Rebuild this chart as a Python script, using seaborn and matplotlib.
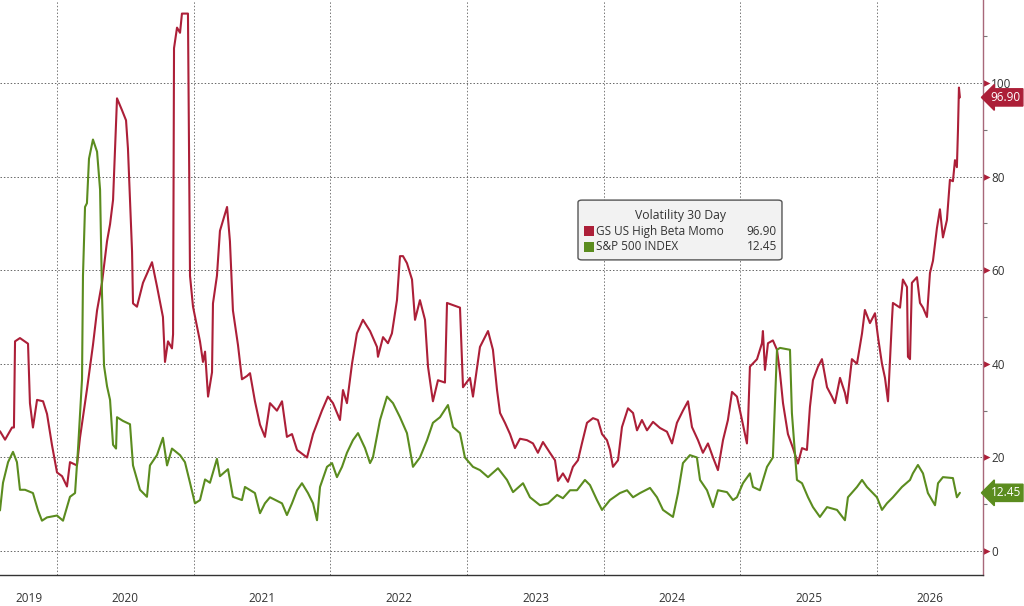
import numpy as np
import pandas as pd
import matplotlib
matplotlib.use("Agg")
import matplotlib.pyplot as plt
import matplotlib.transforms as mtrans
from matplotlib.patches import FancyBboxPatch, Rectangle
from matplotlib.ticker import MultipleLocator, FixedLocator
import seaborn as sns

# dates as fractional years
momo_t = [2019.583, 2019.620, 2019.671, 2019.685, 2019.693, 2019.729, 2019.788, 2019.802, 2019.824,
          2019.854, 2019.898, 2019.927, 2019.963, 2020.000, 2020.037, 2020.073, 2020.095, 2020.146,
          2020.168, 2020.219, 2020.263, 2020.293, 2020.329, 2020.366, 2020.388, 2020.410, 2020.439,
          2020.475, 2020.505, 2020.519, 2020.549, 2020.556, 2020.585, 2020.629, 2020.695, 2020.731,
          2020.775, 2020.790, 2020.812, 2020.841, 2020.849, 2020.856, 2020.878, 2020.900, 2020.914,
          2020.958, 2020.973, 2020.995, 2021.046, 2021.068, 2021.083, 2021.105, 2021.134, 2021.141,
          2021.170, 2021.192, 2021.244, 2021.265, 2021.287, 2021.324, 2021.353, 2021.390, 2021.412,
          2021.448, 2021.485, 2021.521, 2021.558, 2021.609, 2021.646, 2021.682, 2021.719, 2021.756,
          2021.829, 2021.873, 2021.938, 2021.982, 2022.019, 2022.070, 2022.092, 2022.121, 2022.158,
          2022.194, 2022.238, 2022.290, 2022.341, 2022.348, 2022.385, 2022.421, 2022.450, 2022.487,
          2022.509, 2022.531, 2022.560, 2022.597, 2022.619, 2022.655, 2022.692, 2022.714, 2022.750,
          2022.787, 2022.838, 2022.853, 2022.948, 2022.970, 2023.021, 2023.043, 2023.094, 2023.153,
          2023.189, 2023.219, 2023.241, 2023.277, 2023.314, 2023.350, 2023.387, 2023.438, 2023.482,
          2023.518, 2023.555, 2023.606, 2023.643, 2023.665, 2023.701, 2023.738, 2023.774, 2023.811,
          2023.840, 2023.877, 2023.921, 2023.957, 2023.987, 2024.023, 2024.045, 2024.067, 2024.104,
          2024.133, 2024.177, 2024.214, 2024.243, 2024.279, 2024.316, 2024.360, 2024.411, 2024.462,
          2024.499, 2024.535, 2024.579, 2024.616, 2024.645, 2024.689, 2024.725, 2024.762, 2024.799,
          2024.835, 2024.872, 2024.908, 2024.938, 2024.974, 2025.011, 2025.047, 2025.055, 2025.069,
          2025.121, 2025.157, 2025.164, 2025.179, 2025.201, 2025.237, 2025.267, 2025.289, 2025.311,
          2025.347, 2025.384, 2025.420, 2025.450, 2025.486, 2025.508, 2025.530, 2025.567, 2025.596,
          2025.633, 2025.669, 2025.691, 2025.728, 2025.764, 2025.779, 2025.815, 2025.852, 2025.889,
          2025.910, 2025.947, 2025.984, 2026.006, 2026.035, 2026.057, 2026.079, 2026.108, 2026.115,
          2026.167, 2026.188, 2026.218, 2026.225, 2026.240, 2026.254, 2026.291, 2026.313, 2026.335,
          2026.364, 2026.386, 2026.408, 2026.437, 2026.459, 2026.481, 2026.510, 2026.532, 2026.554,
          2026.569, 2026.583, 2026.591, 2026.598, 2026.605]
momo_vol = [25.6, 23.8, 26.4, 26.4, 44.8, 45.5, 44.3, 31.6, 26.4,
            32.3, 32.0, 29.3, 22.7, 16.8, 16.0, 13.8, 19.0, 18.3,
            24.2, 34.5, 44.0, 51.4, 57.3, 66.2, 69.8, 75.0, 96.7,
            94.2, 92.0, 86.0, 64.0, 52.9, 52.2, 57.3, 61.7, 56.6,
            50.0, 40.4, 44.8, 43.3, 46.3, 107.4, 111.8, 110.7, 114.8,
            114.8, 58.8, 52.2, 44.8, 40.4, 42.6, 33.0, 38.2, 52.9,
            58.8, 68.4, 73.5, 66.2, 51.4, 44.0, 36.7, 37.4, 38.0,
            32.0, 27.0, 24.4, 31.6, 30.0, 32.0, 24.4, 25.0, 21.6,
            20.0, 25.0, 30.0, 33.0, 31.6, 28.0, 34.4, 31.6, 40.0,
            46.5, 49.4, 47.0, 43.6, 41.5, 45.7, 44.4, 46.5, 53.6,
            63.0, 63.0, 61.5, 58.0, 49.4, 53.6, 49.4, 39.4, 32.0,
            36.5, 36.0, 53.0, 52.0, 35.0, 37.0, 33.0, 43.6, 47.0,
            43.0, 34.4, 29.5, 27.4, 25.0, 22.0, 24.0, 23.7, 23.0,
            21.0, 23.3, 21.0, 19.4, 15.0, 16.6, 14.8, 18.0, 19.4,
            23.0, 27.4, 28.4, 28.0, 25.0, 23.7, 21.6, 18.0, 19.4,
            26.5, 30.5, 29.5, 25.8, 28.0, 25.8, 27.6, 26.3, 25.5,
            23.0, 27.4, 30.0, 32.0, 26.5, 23.7, 21.0, 23.0, 20.0,
            17.3, 23.7, 28.0, 34.0, 33.0, 28.0, 23.0, 27.4, 39.4,
            41.0, 44.4, 47.0, 38.7, 44.4, 45.0, 43.0, 38.0, 31.6,
            25.0, 22.0, 18.7, 22.0, 21.6, 30.8, 36.5, 39.4, 41.0,
            35.0, 33.0, 31.6, 37.0, 33.8, 31.6, 41.0, 40.0, 46.5,
            51.5, 48.7, 50.8, 45.7, 40.0, 37.0, 32.0, 49.4, 53.0,
            52.0, 58.0, 56.4, 41.5, 41.0, 57.3, 58.5, 53.0, 52.0,
            50.0, 59.4, 62.0, 69.0, 73.0, 67.0, 70.7, 79.3, 79.0,
            83.5, 82.0, 90.0, 99.0, 96.9]

spx_t = [2019.583, 2019.605, 2019.642, 2019.678, 2019.707, 2019.729, 2019.766, 2019.824, 2019.861,
         2019.890, 2019.927, 2020.000, 2020.044, 2020.095, 2020.132, 2020.154, 2020.183, 2020.190,
         2020.205, 2020.219, 2020.234, 2020.263, 2020.293, 2020.315, 2020.329, 2020.344, 2020.366,
         2020.388, 2020.410, 2020.432, 2020.439, 2020.483, 2020.534, 2020.556, 2020.607, 2020.658,
         2020.680, 2020.731, 2020.775, 2020.805, 2020.841, 2020.900, 2020.936, 2020.973, 2021.009,
         2021.046, 2021.083, 2021.119, 2021.170, 2021.192, 2021.251, 2021.287, 2021.353, 2021.375,
         2021.448, 2021.485, 2021.521, 2021.558, 2021.646, 2021.682, 2021.719, 2021.756, 2021.792,
         2021.836, 2021.873, 2021.902, 2021.924, 2021.975, 2022.012, 2022.048, 2022.085, 2022.121,
         2022.165, 2022.202, 2022.253, 2022.290, 2022.311, 2022.363, 2022.414, 2022.458, 2022.509,
         2022.560, 2022.604, 2022.655, 2022.707, 2022.750, 2022.802, 2022.860, 2022.897, 2022.948,
         2022.984, 2023.043, 2023.094, 2023.153, 2023.226, 2023.292, 2023.336, 2023.409, 2023.460,
         2023.533, 2023.592, 2023.658, 2023.701, 2023.753, 2023.804, 2023.862, 2023.899, 2023.950,
         2023.987, 2024.045, 2024.118, 2024.170, 2024.214, 2024.265, 2024.338, 2024.389, 2024.433,
         2024.506, 2024.543, 2024.579, 2024.630, 2024.681, 2024.704, 2024.755, 2024.799, 2024.835,
         2024.901, 2024.945, 2024.974, 2025.018, 2025.069, 2025.091, 2025.142, 2025.194, 2025.237,
         2025.267, 2025.289, 2025.362, 2025.376, 2025.413, 2025.450, 2025.494, 2025.530, 2025.581,
         2025.633, 2025.706, 2025.764, 2025.786, 2025.852, 2025.889, 2025.925, 2025.998, 2026.035,
         2026.071, 2026.115, 2026.181, 2026.240, 2026.261, 2026.298, 2026.335, 2026.371, 2026.423,
         2026.445, 2026.481, 2026.554, 2026.583, 2026.605]
spx_vol = [8.7, 14.6, 19.0, 21.2, 19.0, 13.1, 13.1, 12.4, 8.7,
           6.5, 7.2, 7.6, 6.5, 11.6, 12.4, 21.9, 36.7, 58.8,
           73.5, 74.3, 83.8, 87.9, 85.3, 77.2, 55.1, 39.6, 35.2,
           32.3, 22.7, 21.9, 28.6, 27.8, 27.1, 18.3, 13.1, 11.6,
           18.3, 20.5, 24.2, 18.3, 21.9, 20.5, 19.0, 14.6, 10.2,
           10.9, 15.3, 14.6, 19.7, 16.0, 17.5, 11.6, 10.9, 13.7,
           12.4, 8.1, 10.2, 11.5, 10.2, 7.7, 10.2, 13.0, 14.5,
           12.4, 10.2, 6.6, 13.7, 18.0, 18.8, 15.8, 18.0, 21.0,
           23.7, 25.2, 22.0, 18.8, 20.0, 28.0, 33.0, 31.6, 28.6,
           25.2, 18.0, 20.0, 23.7, 27.4, 28.6, 31.2, 26.5, 25.2,
           20.0, 18.0, 17.3, 15.8, 17.7, 15.2, 12.6, 14.5, 11.5,
           9.8, 10.2, 12.0, 11.3, 13.0, 13.0, 15.2, 14.1, 10.9,
           8.8, 10.9, 12.4, 13.0, 11.5, 12.4, 13.5, 11.5, 8.8,
           7.3, 12.4, 18.8, 20.5, 20.0, 15.2, 13.0, 9.4, 13.0,
           12.6, 10.9, 11.5, 14.5, 16.6, 13.7, 13.0, 18.0, 20.0,
           43.0, 43.4, 43.0, 29.5, 15.2, 14.5, 11.5, 9.4, 7.3,
           9.4, 8.8, 6.6, 11.5, 13.7, 15.2, 13.7, 11.5, 8.8,
           10.2, 11.5, 13.7, 15.2, 16.6, 18.4, 16.6, 12.4, 9.8,
           14.5, 15.8, 15.6, 11.5, 12.45]

series_names = ["GS US High Beta Momo", "S&P 500 INDEX"]
legend_title = "Volatility 30 Day"
years = [2019, 2020, 2021, 2022, 2023, 2024, 2025, 2026]
y_ticks = [0, 20, 40, 60, 80, 100]

red = "#ac1f38"
green = "#5b8c1f"
txt = "#333333"

df = pd.concat([
    pd.DataFrame({"t": momo_t, "vol": momo_vol, "series": series_names[0]}),
    pd.DataFrame({"t": spx_t, "vol": spx_vol, "series": series_names[1]}),
])

sns.set_style("white")
plt.rcParams["font.family"] = ["Open Sans", "DejaVu Sans"]

fig = plt.figure(figsize=(10.24, 6.06), dpi=100)
ax = fig.add_axes([0, 31 / 606, 983 / 1024, 575 / 606])

sns.lineplot(data=df, x="t", y="vol", hue="series", hue_order=series_names,
             palette=[red, green], linewidth=1.5, estimator=None, sort=False,
             legend=False, ax=ax)

xmin, xmax = 2019.583, 2026.774
ax.set_xlim(xmin, xmax)
ax.set_ylim(-5.1, 117.7)
ax.set_xlabel("")
ax.set_ylabel("")

# spines
for s in ["left", "top"]:
    ax.spines[s].set_visible(False)
ax.spines["right"].set_color("#a8677a")
ax.spines["right"].set_linewidth(1.0)
ax.spines["bottom"].set_color("#333333")
ax.spines["bottom"].set_linewidth(1.0)

# y axis on the right, small red arrow heads as major ticks
ax.yaxis.tick_right()
ax.yaxis.set_major_locator(FixedLocator(y_ticks))
ax.yaxis.set_minor_locator(MultipleLocator(10))
ax.tick_params(axis="y", which="major", length=4, width=0, pad=2,
               labelsize=8.5, labelcolor=txt)
ax.tick_params(axis="y", which="minor", length=3, width=0.8, color="#777777")
arrow_head = [(0, -1), (2, 0), (0, 1), (0, -1)]
for tk in ax.yaxis.get_major_ticks():
    tk.tick2line.set_marker(arrow_head)
    tk.tick2line.set_markersize(10)
    tk.tick2line.set_markerfacecolor(red)
    tk.tick2line.set_markeredgecolor(red)

# x axis: year boundaries and quarters
ax.xaxis.set_major_locator(FixedLocator(years[1:]))
ax.xaxis.set_minor_locator(MultipleLocator(0.25))
ax.tick_params(axis="x", which="major", direction="out", length=22.5, width=0.8,
               color="#999999", labelbottom=False)
ax.tick_params(axis="x", which="minor", direction="out", length=2.5, width=0.8,
               color="#555555")

ax.grid(axis="y", which="major", linestyle=(0, (1.5, 2)), color="#666666", linewidth=0.7)
ax.grid(axis="x", which="major", linestyle=(0, (1.5, 2)), color="#777777", linewidth=0.7)

trans = mtrans.blended_transform_factory(ax.transData, ax.transAxes)
for yr in years:
    mid = (max(yr, xmin) + min(yr + 1, xmax)) / 2
    ax.text(mid, -0.04, str(yr), transform=trans, ha="center", va="center",
            fontsize=8.5, color=txt)

# last value tags
for vals, col in [(momo_vol, red), (spx_vol, green)]:
    ax.annotate(f"{vals[-1]:.2f}", xy=(1, vals[-1]), xycoords=("axes fraction", "data"),
                xytext=(5.5, 0), textcoords="offset points", ha="left", va="center",
                fontsize=8.5, color="white", annotation_clip=False,
                bbox=dict(boxstyle="larrow,pad=0.18", fc=col, ec=col))

# legend box
ax.add_patch(FancyBboxPatch((0.588, 0.548), 0.2075, 0.104, transform=ax.transAxes,
                            boxstyle="round,pad=0,rounding_size=0.004",
                            fc="#f2f2f2", ec="#555555", lw=1.0, zorder=5))
ax.text(0.692, 0.626, legend_title, transform=ax.transAxes, ha="center", va="center",
        fontsize=8.8, color=txt, zorder=6)
for i, (name, vals, col) in enumerate([(series_names[0], momo_vol, red),
                                       (series_names[1], spx_vol, green)]):
    yy = 0.598 - i * 0.027
    ax.add_patch(Rectangle((0.594, yy - 0.0087), 0.0102, 0.0174,
                           transform=ax.transAxes, fc=col, ec="none", zorder=6))
    ax.text(0.6063, yy, name, transform=ax.transAxes, ha="left", va="center",
            fontsize=8.5, color=txt, zorder=6)
    ax.text(0.7904, yy, f"{vals[-1]:.2f}", transform=ax.transAxes, ha="right",
            va="center", fontsize=8.5, color=txt, zorder=6)

fig.savefig("out.png", dpi=100)
